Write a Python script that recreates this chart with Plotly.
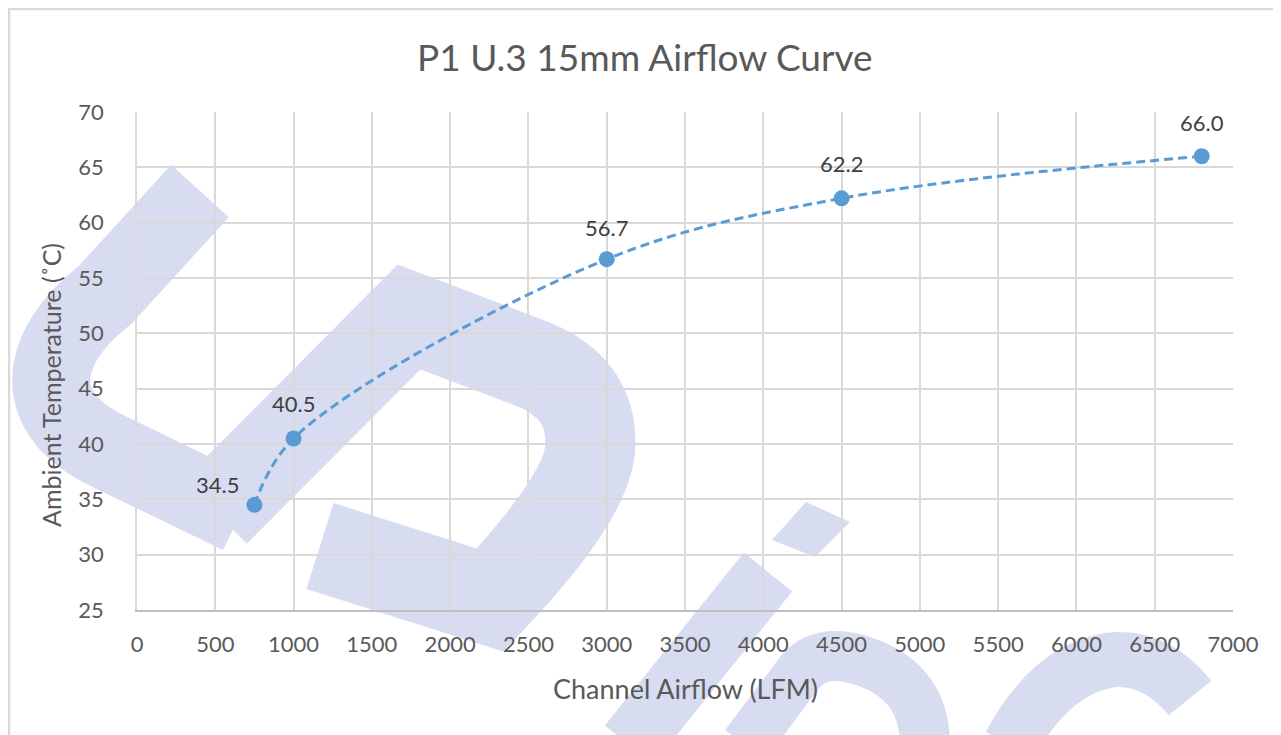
import plotly.graph_objects as go

# ---- data ----
airflow = [750, 1000, 3000, 4500, 6800]          # Channel Airflow (LFM)
temperature = [34.5, 40.5, 56.7, 62.2, 66.0]     # Ambient Temperature (°C)
point_labels = ["34.5", "40.5", "56.7", "62.2", "66.0"]
label_offsets = [(-37, 20), (0, 35), (0, 32), (0, 35), (0, 34)]  # label placement (px)

title_text = "P1 U.3 15mm Airflow Curve"
x_title = "Channel Airflow (LFM)"
y_title = "Ambient Temperature (˚C)"

# ---- layout geometry (page pixels; the figure div sits at an 8px body margin) ----
OFF = 8
FW, FH = 1281, 735
L, R, T, B = 137, 1233, 112, 610
PW, PH = R - L, B - T


def fx(px):
    return (px - L) / PW


def fy(py):
    return (B - py) / PH


def path(cmds):
    out = []
    for c in cmds:
        if isinstance(c, str):
            out.append(c)
        else:
            out.append(f"{fx(c[0]):.5f},{fy(c[1]):.5f}")
    return " ".join(out)


FONT = "Lato, Carlito, Calibri, sans-serif"
GREY = "#595959"
BLUE = "#5b9bd5"
WM = "#d7dcf1"

fig = go.Figure()
fig.add_trace(go.Scatter(
    x=airflow, y=temperature, mode="lines+markers",
    line=dict(color=BLUE, width=3, dash="9px,5px", shape="spline", smoothing=1.0),
    marker=dict(size=16, color=BLUE),
    hoverinfo="skip", showlegend=False,
))

annotations = []
for xv, yv, t, (dx, dy) in zip(airflow, temperature, point_labels, label_offsets):
    annotations.append(dict(x=xv, y=yv, xref="x", yref="y", text=t, showarrow=False,
                            xshift=dx, yshift=dy,
                            font=dict(family=FONT, size=22, color="#404040")))

annotations.append(dict(x=fx(645), y=fy(57), xref="paper", yref="paper", text=title_text,
                        showarrow=False, xanchor="center", yanchor="middle",
                        font=dict(family=FONT, size=37, color=GREY)))
annotations.append(dict(x=fx(685), y=fy(688), xref="paper", yref="paper", text=x_title,
                        showarrow=False, xanchor="center", yanchor="middle",
                        font=dict(family=FONT, size=27, color=GREY)))
annotations.append(dict(x=fx(51), y=fy(385), xref="paper", yref="paper", text=y_title,
                        showarrow=False, xanchor="center", yanchor="middle", textangle=-90,
                        font=dict(family=FONT, size=25, color=GREY)))

shapes = []
# chart frame
shapes.append(dict(type="rect", xref="paper", yref="paper", x0=fx(9), y0=fy(9), x1=fx(1320), y1=fy(780),
                   line=dict(color="#d9d9d9", width=2.5), fillcolor="rgba(0,0,0,0)", layer="below"))

# watermark logo strokes
wm_strokes = [
    (["M", (200, 191), "L", (105, 295), "C", (35, 350), (30, 415), (110, 452), "L", (240, 515)], 78),
    (["M", (215, 512), "L", (409, 317), "L", (530, 363), "Q", (595, 388), (590, 450),
      "Q", (585, 500), (490, 600), "L", (320, 546)], 90),
    (["M", (629, 745), "L", (768, 572)], 62),
    (["M", (745, 745), "L", (800, 672), "Q", (820, 648), (860, 660), "Q", (925, 680), (925, 745)], 50),
    (["M", (1010, 745), "Q", (1050, 670), (1110, 660), "Q", (1155, 655), (1190, 698)], 55),
]
for cmds, w in wm_strokes:
    shapes.append(dict(type="path", xref="paper", yref="paper", path=path(cmds),
                       line=dict(color=WM, width=w), fillcolor="rgba(0,0,0,0)", layer="below"))
shapes.append(dict(type="path", xref="paper", yref="paper",
                   path=path(["M", (772, 540), "L", (806, 502), "L", (850, 522), "L", (815, 557), "Z"]),
                   line=dict(width=0), fillcolor=WM, layer="below"))

fig.update_layout(
    width=FW, height=FH, autosize=False,
    margin=dict(l=L - OFF, r=FW + OFF - R, t=T - OFF, b=FH + OFF - B, pad=0),
    paper_bgcolor="white", plot_bgcolor="rgba(0,0,0,0)",
    showlegend=False,
    annotations=annotations,
    shapes=shapes,
    xaxis=dict(range=[0, 7000], dtick=500, tick0=0, showgrid=True, gridcolor="#d9d9d9", gridwidth=1.5,
               zeroline=False, showline=True, linecolor="#bfbfbf", linewidth=2,
               ticks="", ticklabelstandoff=14,
               tickfont=dict(family=FONT, size=22, color=GREY), fixedrange=True),
    yaxis=dict(range=[25, 70], dtick=5, tick0=25, showgrid=True, gridcolor="#d9d9d9", gridwidth=1.5,
               zeroline=False, showline=True, linecolor="#d9d9d9", linewidth=1.5,
               ticks="", ticklabelstandoff=27,
               tickfont=dict(family=FONT, size=22, color=GREY), fixedrange=True),
)

fig.write_html("out.html")
